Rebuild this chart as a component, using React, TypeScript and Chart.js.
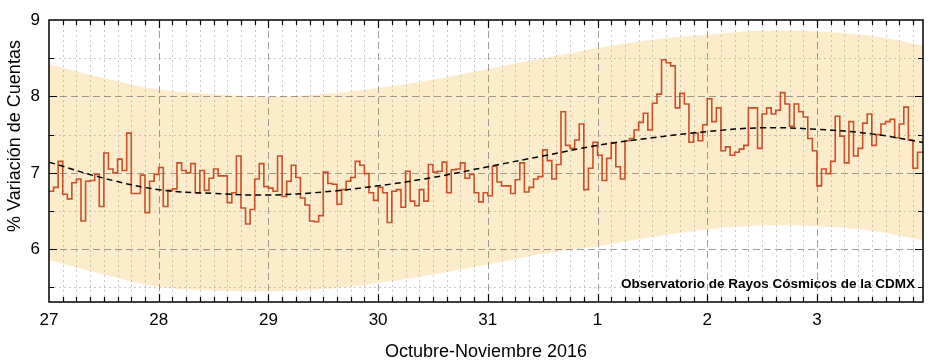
import React, { useEffect, useRef } from "react";
import { Chart, registerables } from "chart.js";

Chart.register(...registerables);

// x is measured in hours from 27 Oct 2016 00:00
const dayLabels = ["27", "28", "29", "30", "31", "1", "2", "3"];
const xTitle = "Octubre-Noviembre 2016";
const yTitle = "% Variación de Cuentas";
const stationNote = "Observatorio de Rayos Cósmicos de la CDMX";

// hourly % variation of counts (one value per hour)
const day27 = [6.76, 6.81, 7.15, 6.72, 6.66, 6.87, 6.92, 6.37, 6.89, 6.90, 6.98, 6.56, 7.26, 7.05, 7.00, 7.18, 7.03, 7.52, 6.73, 6.73, 6.97, 6.48, 6.89, 6.98];
const day28 = [7.07, 6.56, 6.77, 6.79, 7.13, 7.03, 7.00, 7.12, 6.74, 7.03, 6.77, 6.93, 7.05, 6.96, 6.96, 6.61, 6.74, 7.22, 6.54, 6.33, 6.52, 6.92, 7.12, 6.82];
const day29 = [6.80, 6.76, 7.22, 6.69, 6.89, 7.10, 6.94, 6.67, 6.58, 6.37, 6.36, 6.44, 7.01, 6.86, 6.85, 6.59, 6.78, 6.89, 6.94, 7.15, 7.10, 6.99, 6.74, 6.64];
const day30 = [6.81, 6.74, 6.35, 6.76, 6.78, 6.55, 7.02, 6.63, 6.57, 6.78, 6.63, 7.11, 7.01, 7.02, 7.14, 6.74, 7.04, 7.05, 7.13, 6.93, 6.98, 6.74, 6.62, 6.74];
const day31 = [6.70, 7.09, 6.88, 6.83, 6.83, 6.73, 6.91, 7.13, 6.75, 6.81, 6.92, 6.95, 7.30, 7.16, 6.92, 7.11, 7.80, 7.36, 7.32, 7.43, 7.64, 6.78, 7.06, 7.40];
const day1 = [7.23, 6.90, 7.19, 7.39, 7.08, 6.92, 7.42, 7.45, 7.56, 7.66, 7.78, 7.56, 7.91, 8.03, 8.48, 8.44, 8.40, 7.85, 8.04, 7.90, 7.40, 7.52, 7.42, 7.63];
const day2 = [7.97, 7.67, 7.85, 7.29, 7.34, 7.23, 7.27, 7.31, 7.36, 7.85, 7.85, 7.32, 7.77, 7.85, 7.77, 7.82, 8.05, 7.90, 7.61, 7.90, 7.80, 7.73, 7.45, 7.29];
const day3 = [6.83, 7.05, 6.99, 7.15, 7.74, 7.48, 7.13, 7.67, 7.22, 7.32, 7.65, 7.77, 7.36, 7.50, 7.64, 7.67, 7.70, 7.46, 7.64, 7.86, 7.43, 7.06, 7.27, 7.27];

// fitted trend and its band, sampled every 12 hours
const fitHours = [0, 12, 24, 36, 48, 60, 72, 84, 96, 108, 120, 132, 144, 156, 168, 180, 192];
const fitValues = [7.14, 6.93, 6.78, 6.73, 6.71, 6.75, 6.83, 6.94, 7.08, 7.22, 7.36, 7.46, 7.54, 7.59, 7.57, 7.51, 7.39];
const bandUpper = [8.42, 8.24, 8.09, 8.03, 8.00, 8.03, 8.11, 8.22, 8.36, 8.50, 8.63, 8.74, 8.81, 8.86, 8.85, 8.79, 8.66];
const bandLower = [5.86, 5.67, 5.51, 5.46, 5.45, 5.48, 5.56, 5.67, 5.80, 5.94, 6.04, 6.16, 6.26, 6.31, 6.30, 6.24, 6.11];

const X_MIN = 0;
const X_MAX = 191.2;
const Y_MIN = 5.31;
const Y_MAX = 9;

const FONT = "'Liberation Sans', Arial, Helvetica, sans-serif";

export default function App() {
  const ref = useRef<HTMLCanvasElement | null>(null);

  useEffect(() => {
    const canvas = ref.current;
    if (!canvas) return;

    const series = [...day27, ...day28, ...day29, ...day30, ...day31, ...day1, ...day2, ...day3];
    const stepPts = series.map((v, i) => ({ x: i, y: v }));
    stepPts.push({ x: series.length, y: series[series.length - 1] });

    const STEP_INDEX = 2;

    const decor = {
      id: "decor",
      beforeDatasetDraw(chart: any, args: any) {
        if (args.index !== STEP_INDEX) return;
        const { ctx, chartArea: a, scales } = chart;
        const xs = scales.x, ys = scales.y;
        ctx.save();
        ctx.lineWidth = 1;
        // vertical grid
        for (let h = 3; h < X_MAX; h += 3) {
          const px = Math.round(xs.getPixelForValue(h)) + 0.5;
          const major = h % 24 === 0;
          ctx.strokeStyle = major ? "rgba(95,95,95,0.6)" : "rgba(150,150,150,0.5)";
          ctx.setLineDash(major ? [7, 4] : [2, 3]);
          ctx.beginPath();
          ctx.moveTo(px, a.top);
          ctx.lineTo(px, a.bottom);
          ctx.stroke();
        }
        // horizontal grid
        for (let v = 5.5; v < Y_MAX; v += 0.5) {
          const py = Math.round(ys.getPixelForValue(v)) + 0.5;
          const major = Math.abs(v - Math.round(v)) < 1e-6;
          ctx.strokeStyle = major ? "rgba(95,95,95,0.6)" : "rgba(150,150,150,0.5)";
          ctx.setLineDash(major ? [7, 4] : [2, 3]);
          ctx.beginPath();
          ctx.moveTo(a.left, py);
          ctx.lineTo(a.right, py);
          ctx.stroke();
        }
        ctx.restore();
      },
      afterDraw(chart: any) {
        const { ctx, chartArea: a, scales } = chart;
        const xs = scales.x, ys = scales.y;
        ctx.save();
        ctx.setLineDash([]);
        ctx.strokeStyle = "#000";
        ctx.lineWidth = 1.5;
        ctx.strokeRect(a.left, a.top, a.right - a.left, a.bottom - a.top);
        ctx.lineWidth = 1.2;
        ctx.beginPath();
        for (let h = 3; h < X_MAX; h += 3) {
          const px = Math.round(xs.getPixelForValue(h)) + 0.5;
          const len = h % 24 === 0 ? 8 : 5;
          ctx.moveTo(px, a.bottom);
          ctx.lineTo(px, a.bottom - len);
          ctx.moveTo(px, a.top);
          ctx.lineTo(px, a.top + len);
        }
        for (let v = 5.5; v < Y_MAX; v += 0.5) {
          const py = Math.round(ys.getPixelForValue(v)) + 0.5;
          const len = Math.abs(v - Math.round(v)) < 1e-6 ? 8 : 5;
          ctx.moveTo(a.left, py);
          ctx.lineTo(a.left + len, py);
          ctx.moveTo(a.right, py);
          ctx.lineTo(a.right - len, py);
        }
        ctx.stroke();

        // station note
        ctx.fillStyle = "#000";
        ctx.font = `bold 13.5px ${FONT}`;
        ctx.textAlign = "right";
        ctx.textBaseline = "middle";
        ctx.fillText(stationNote, a.right - 8, 284);

        // y title
        ctx.font = `18px ${FONT}`;
        ctx.textAlign = "center";
        ctx.translate(15, 136);
        ctx.rotate(-Math.PI / 2);
        ctx.fillText(yTitle, 0, 0);
        ctx.restore();

        // x title
        ctx.save();
        ctx.fillStyle = "#000";
        ctx.font = `18px ${FONT}`;
        ctx.textAlign = "center";
        ctx.textBaseline = "middle";
        ctx.fillText(xTitle, (a.left + a.right) / 2, 352);
        ctx.restore();
      },
    };

    const chart = new Chart(canvas, {
      type: "line",
      data: {
        datasets: [
          {
            data: fitHours.map((h, i) => ({ x: h, y: bandUpper[i] })),
            borderWidth: 0,
            pointRadius: 0,
            tension: 0.4,
            fill: "+1",
            backgroundColor: "#fdecca",
            borderColor: "rgba(0,0,0,0)",
            order: 4,
          },
          {
            data: fitHours.map((h, i) => ({ x: h, y: bandLower[i] })),
            borderWidth: 0,
            pointRadius: 0,
            tension: 0.4,
            fill: false,
            borderColor: "rgba(0,0,0,0)",
            order: 3,
          },
          {
            data: stepPts,
            stepped: "before",
            borderColor: "#c9502a",
            borderWidth: 1.6,
            pointRadius: 0,
            fill: false,
            order: 2,
          },
          {
            data: fitHours.map((h, i) => ({ x: h, y: fitValues[i] })),
            borderColor: "#000",
            borderWidth: 1.5,
            borderDash: [6, 4],
            pointRadius: 0,
            tension: 0.4,
            fill: false,
            order: 1,
          },
        ],
      },
      options: {
        animation: false,
        responsive: false,
        layout: { padding: { top: 20, right: 12, left: 0, bottom: 0 } },
        plugins: {
          legend: { display: false },
          tooltip: { enabled: false },
          title: { display: false },
        },
        scales: {
          x: {
            type: "linear",
            min: X_MIN,
            max: X_MAX,
            grid: { display: false, drawTicks: false },
            border: { display: false },
            afterFit: (s: any) => {
              s.height = 62;
            },
            ticks: {
              stepSize: 24,
              includeBounds: false,
              autoSkip: false,
              maxRotation: 0,
              padding: 8,
              color: "#000",
              font: { family: FONT, size: 17 },
              callback: (v: any) => {
                const i = Math.round(Number(v) / 24);
                return Math.abs(Number(v) - i * 24) < 1e-6 ? dayLabels[i] : "";
              },
            },
          },
          y: {
            type: "linear",
            min: Y_MIN,
            max: Y_MAX,
            grid: { display: false, drawTicks: false },
            border: { display: false },
            afterFit: (s: any) => {
              s.width = 49;
            },
            ticks: {
              stepSize: 1,
              includeBounds: false,
              padding: 9,
              color: "#000",
              font: { family: FONT, size: 17 },
              callback: (v: any) => String(Math.round(Number(v))),
            },
          },
        },
      },
      plugins: [decor],
    });

    return () => chart.destroy();
  }, []);

  return (
    <div style={{ position: "absolute", left: 0, top: 0, width: 935, height: 364, background: "#fff" }}>
      <canvas ref={ref} width={935} height={364} />
    </div>
  );
}
